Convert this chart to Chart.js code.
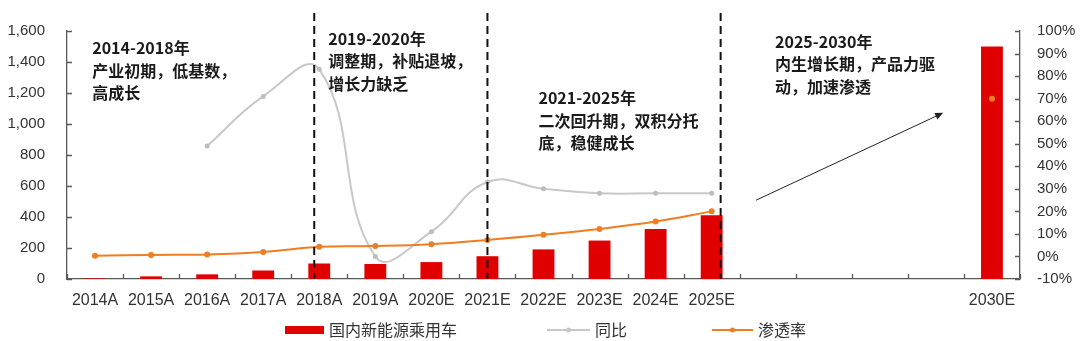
<!DOCTYPE html>
<html>
<head>
<meta charset="utf-8">
<script src="https://cdn.jsdelivr.net/npm/chart.js@4.4.1/dist/chart.umd.min.js"></script>
<style>
  html, body { margin: 0; padding: 0; background: #fff; }
  #wrap { width: 1080px; height: 341px; }
</style>
</head>
<body>
<div id="wrap"><canvas id="ev_chart"></canvas></div>
<script>
// categories (2026-2029 are empty slots on the axis)
const categories = ['2014A', '2015A', '2016A', '2017A', '2018A', '2019A', '2020E', '2021E',
    '2022E', '2023E', '2024E', '2025E', '', '', '', '', '2030E'];
// 国内新能源乘用车 (left axis)
const salesVolume = [4, 17, 30, 55, 100, 97, 109, 147, 191, 248, 322, 412, null, null, null, null, 1500];
// 同比 (%, right axis)
const yoyGrowth = [null, null, 49, 71, 83, 0, 11, 33, 30, 28, 28, 28, null, null, null, null, null];
// 渗透率 (%, right axis)
const penetration = [0.3, 0.7, 0.9, 2.0, 4.3, 4.6, 5.4, 7.3, 9.6, 12.2, 15.5, 20, null, null, null, null, 70];

const leftTicks = { min: 0, max: 1600, step: 200 };
const rightTicks = { min: -10, max: 100, step: 10 };

// phase notes: [category index, left-axis value of first line, lines]
const phaseNotes = [
    [-0.05, 1490, ['2014-2018年', '产业初期，低基数，', '高成长']],
    [4.16, 1550, ['2019-2020年', '调整期，补贴退坡，', '增长力缺乏']],
    [7.91, 1168, ['2021-2025年', '二次回升期，双积分托', '底，稳健成长']],
    [12.13, 1532, ['2025-2030年', '内生增长期，产品力驱', '动，加速渗透']]
];
const phaseDividers = [3.91, 7.0, 11.16];
const arrowFrom = [11.79, 508];
const arrowTo = [15.13, 1072];

const barRed = '#E00000';
const yoyGray = '#C8C8C8';
const penOrange = '#EF7D22';
const axisColor = '#595959';
const tickFont = '"Liberation Sans", Arial, sans-serif';
const cjkFont = '"Noto Sans CJK SC", sans-serif';

const decorPlugin = {
    id: 'decor',
    afterDatasetsDraw(chart) {
        const ctx = chart.ctx;
        const x = chart.scales.x, y = chart.scales.y, y1 = chart.scales.y1;
        const area = chart.chartArea;
        ctx.save();

        // inner tick marks
        ctx.strokeStyle = axisColor;
        ctx.lineWidth = 1.3;
        ctx.beginPath();
        y.ticks.forEach(t => {
            const py = Math.round(y.getPixelForValue(t.value)) + 0.5;
            ctx.moveTo(area.left, py); ctx.lineTo(area.left + 5, py);
        });
        y1.ticks.forEach(t => {
            const py = Math.round(y1.getPixelForValue(t.value)) + 0.5;
            ctx.moveTo(area.right - 5, py); ctx.lineTo(area.right, py);
        });
        for (let i = 0; i <= categories.length; i++) {
            const px = Math.round(x.getPixelForValue(i - 0.5)) + 0.5;
            ctx.moveTo(px, area.bottom); ctx.lineTo(px, area.bottom - 5);
        }
        ctx.stroke();

        // dashed phase dividers
        ctx.strokeStyle = '#111';
        ctx.lineWidth = 2;
        ctx.setLineDash([8, 5]);
        phaseDividers.forEach(v => {
            const px = x.getPixelForValue(v);
            ctx.beginPath();
            ctx.moveTo(px, 13); ctx.lineTo(px, area.bottom);
            ctx.stroke();
        });
        ctx.setLineDash([]);

        // arrow
        const ax0 = x.getPixelForValue(arrowFrom[0]), ay0 = y.getPixelForValue(arrowFrom[1]);
        const ax1 = x.getPixelForValue(arrowTo[0]), ay1 = y.getPixelForValue(arrowTo[1]);
        const ang = Math.atan2(ay1 - ay0, ax1 - ax0);
        ctx.strokeStyle = '#222';
        ctx.fillStyle = '#222';
        ctx.lineWidth = 1;
        ctx.beginPath();
        ctx.moveTo(ax0, ay0); ctx.lineTo(ax1 - 6 * Math.cos(ang), ay1 - 6 * Math.sin(ang));
        ctx.stroke();
        ctx.beginPath();
        ctx.moveTo(ax1, ay1);
        ctx.lineTo(ax1 - 8 * Math.cos(ang) + 3.5 * Math.sin(ang), ay1 - 8 * Math.sin(ang) - 3.5 * Math.cos(ang));
        ctx.lineTo(ax1 - 8 * Math.cos(ang) - 3.5 * Math.sin(ang), ay1 - 8 * Math.sin(ang) + 3.5 * Math.cos(ang));
        ctx.closePath();
        ctx.fill();

        // phase notes
        ctx.fillStyle = '#1a1a1a';
        ctx.font = 'bold 16px ' + cjkFont;
        ctx.textAlign = 'left';
        ctx.textBaseline = 'middle';
        phaseNotes.forEach(([xi, yv, lines]) => {
            const px = x.getPixelForValue(xi);
            const py = y.getPixelForValue(yv);
            lines.forEach((s, k) => ctx.fillText(s, px, py + k * 22.5));
        });
        ctx.restore();
    },
    afterDraw(chart) {
        // legend
        const ctx = chart.ctx;
        const ly = 330;
        ctx.save();
        ctx.font = '16px ' + cjkFont;
        ctx.fillStyle = '#333';
        ctx.textBaseline = 'middle';
        ctx.textAlign = 'left';

        ctx.fillStyle = barRed;
        ctx.fillRect(285, ly - 4, 39, 8);
        ctx.fillStyle = '#333';
        ctx.fillText(chart.data.datasets[0].label, 329, ly);

        [[547, 590, yoyGray, 1], [712, 753, penOrange, 2]].forEach(([a, b, c, di]) => {
            ctx.strokeStyle = c;
            ctx.lineWidth = 2;
            ctx.beginPath(); ctx.moveTo(a, ly); ctx.lineTo(b, ly); ctx.stroke();
            ctx.fillStyle = c;
            ctx.beginPath(); ctx.arc((a + b) / 2, ly, 2.5, 0, Math.PI * 2); ctx.fill();
            ctx.fillStyle = '#333';
            ctx.fillText(chart.data.datasets[di].label, b + 5, ly);
        });
        ctx.restore();
    }
};

new Chart(document.getElementById('ev_chart'), {
    data: {
        labels: categories,
        datasets: [{
            type: 'bar',
            label: '国内新能源乘用车',
            data: salesVolume,
            backgroundColor: barRed,
            yAxisID: 'y',
            categoryPercentage: 1,
            barPercentage: 0.39,
            order: 3
        }, {
            type: 'line',
            label: '同比',
            data: yoyGrowth,
            borderColor: yoyGray,
            backgroundColor: '#BDBDBD',
            borderWidth: 2,
            pointRadius: 2.5,
            pointBorderWidth: 0,
            tension: 0.45,
            yAxisID: 'y1',
            order: 2
        }, {
            type: 'line',
            label: '渗透率',
            data: penetration,
            borderColor: penOrange,
            backgroundColor: penOrange,
            borderWidth: 2,
            pointRadius: 3,
            pointBorderWidth: 0,
            tension: 0.4,
            yAxisID: 'y1',
            order: 1
        }]
    },
    options: {
        responsive: true,
        maintainAspectRatio: false,
        animation: false,
        layout: { padding: { top: 20, left: 0, right: 0, bottom: 0 } },
        plugins: { legend: { display: false }, tooltip: { enabled: false } },
        scales: {
            x: {
                grid: { display: false, drawTicks: false },
                border: { color: axisColor, width: 1.3 },
                ticks: { color: '#333', font: { family: tickFont, size: 16 }, padding: 12, maxRotation: 0, autoSkip: false },
                afterFit: s => { s.height = 62; }
            },
            y: {
                position: 'left',
                min: leftTicks.min, max: leftTicks.max,
                grid: { display: false, drawTicks: false },
                border: { color: axisColor, width: 1.3 },
                ticks: {
                    stepSize: leftTicks.step, color: '#333', padding: 22,
                    font: { family: tickFont, size: 15 },
                    callback: v => v.toLocaleString('en-US')
                },
                afterFit: s => { s.width = 67; }
            },
            y1: {
                position: 'right',
                min: rightTicks.min, max: rightTicks.max,
                grid: { display: false, drawTicks: false },
                border: { color: axisColor, width: 1.3 },
                ticks: {
                    stepSize: rightTicks.step, color: '#333', padding: 17,
                    font: { family: tickFont, size: 15 },
                    callback: v => v + '%'
                },
                afterFit: s => { s.width = 60; }
            }
        }
    },
    plugins: [decorPlugin]
});
</script>
</body>
</html>
